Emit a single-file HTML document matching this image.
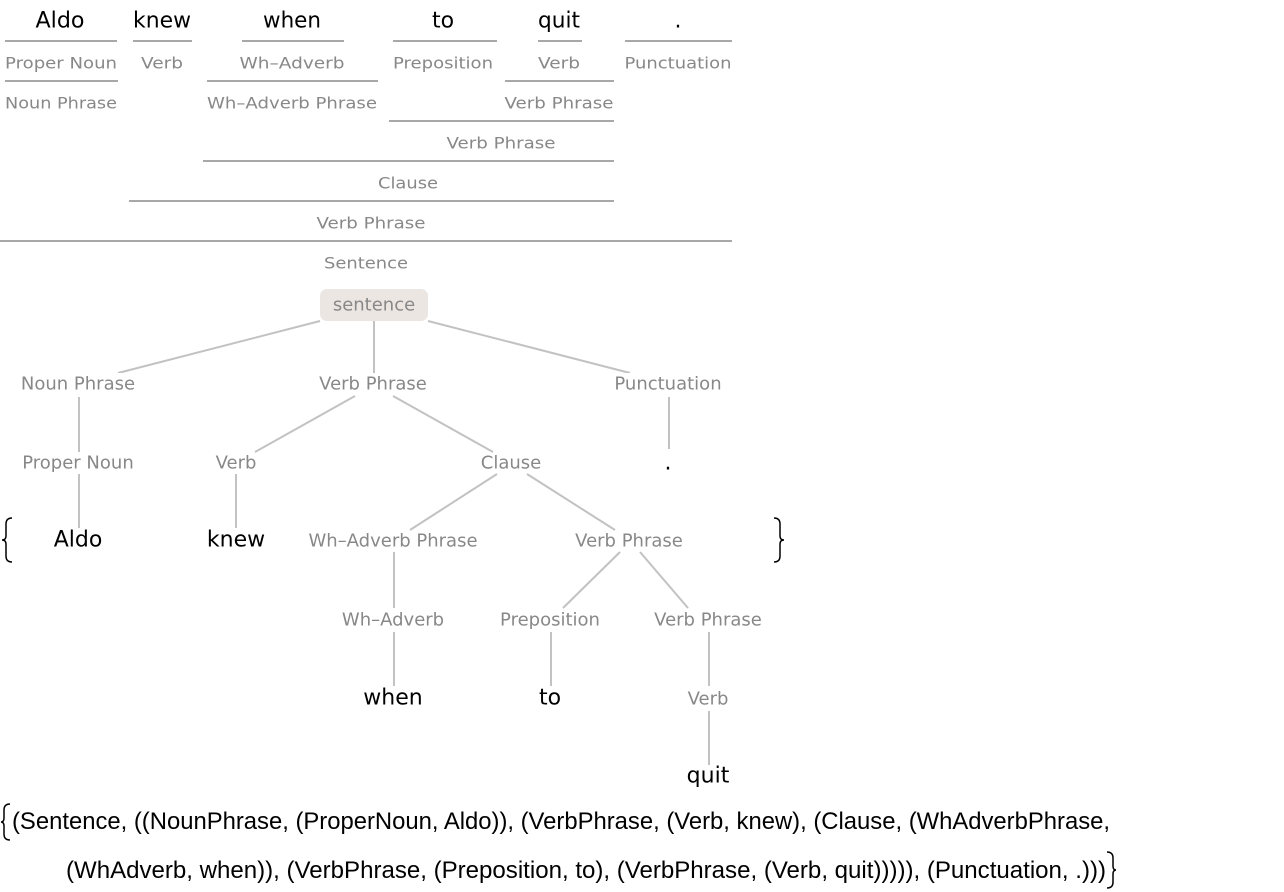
<!DOCTYPE html>
<html><head><meta charset="utf-8"><style>
html,body{margin:0;padding:0;background:#fff;}
svg{display:block;}
.w{font-family:"DejaVu Sans","Liberation Sans",sans-serif;font-size:22px;fill:#000;}
.g{font-family:"DejaVu Sans","Liberation Sans",sans-serif;font-size:16px;fill:#888;}
.t{font-family:"DejaVu Sans","Liberation Sans",sans-serif;font-size:18px;fill:#888;}
.tw{font-family:"DejaVu Sans","Liberation Sans",sans-serif;font-size:22px;fill:#000;}
.b{font-family:"Liberation Sans",sans-serif;font-size:24px;fill:#000;}
</style></head><body>
<svg width="1284" height="892" viewBox="0 0 1284 892" xmlns="http://www.w3.org/2000/svg">
<g text-anchor="middle" dominant-baseline="central">
<text class="w" x="60" y="21" textLength="49" lengthAdjust="spacingAndGlyphs">Aldo</text>
<text class="w" x="162" y="21" textLength="58" lengthAdjust="spacingAndGlyphs">knew</text>
<text class="w" x="292" y="21" textLength="58" lengthAdjust="spacingAndGlyphs">when</text>
<text class="w" x="443" y="21">to</text>
<text class="w" x="559" y="21" textLength="42" lengthAdjust="spacingAndGlyphs">quit</text>
<text class="w" x="678" y="21">.</text>
<text class="g" x="61" y="63" textLength="112" lengthAdjust="spacingAndGlyphs">Proper Noun</text>
<text class="g" x="162" y="63" textLength="42" lengthAdjust="spacingAndGlyphs">Verb</text>
<text class="g" x="292" y="63" textLength="105" lengthAdjust="spacingAndGlyphs">Wh–Adverb</text>
<text class="g" x="443" y="63" textLength="100" lengthAdjust="spacingAndGlyphs">Preposition</text>
<text class="g" x="559" y="63" textLength="42" lengthAdjust="spacingAndGlyphs">Verb</text>
<text class="g" x="678" y="63" textLength="107" lengthAdjust="spacingAndGlyphs">Punctuation</text>
<text class="g" x="61" y="103" textLength="112" lengthAdjust="spacingAndGlyphs">Noun Phrase</text>
<text class="g" x="292" y="103" textLength="170" lengthAdjust="spacingAndGlyphs">Wh–Adverb Phrase</text>
<text class="g" x="559" y="103" textLength="109" lengthAdjust="spacingAndGlyphs">Verb Phrase</text>
<text class="g" x="501" y="143" textLength="109" lengthAdjust="spacingAndGlyphs">Verb Phrase</text>
<text class="g" x="408" y="183" textLength="60" lengthAdjust="spacingAndGlyphs">Clause</text>
<text class="g" x="371" y="223" textLength="109" lengthAdjust="spacingAndGlyphs">Verb Phrase</text>
<text class="g" x="366" y="263" textLength="84" lengthAdjust="spacingAndGlyphs">Sentence</text>
</g>
<g stroke="#a8a8a8" stroke-width="2">
<line x1="5" y1="41" x2="117" y2="41"/><line x1="133" y1="41" x2="192" y2="41"/>
<line x1="242" y1="41" x2="344" y2="41"/><line x1="393" y1="41" x2="497" y2="41"/>
<line x1="538" y1="41" x2="582" y2="41"/><line x1="625" y1="41" x2="732" y2="41"/>
<line x1="5" y1="81" x2="118" y2="81"/><line x1="207" y1="81" x2="378" y2="81"/>
<line x1="505" y1="81" x2="614" y2="81"/>
<line x1="389" y1="121" x2="614" y2="121"/>
<line x1="203" y1="161" x2="614" y2="161"/>
<line x1="129" y1="201" x2="614" y2="201"/>
<line x1="0" y1="241" x2="732" y2="241"/>
</g>
<g stroke="#c2c2c2" stroke-width="2">
<line x1="320" y1="321" x2="118" y2="373"/><line x1="374" y1="321" x2="374" y2="373"/><line x1="428" y1="321" x2="630" y2="373"/>
<line x1="79" y1="397" x2="79" y2="452"/>
<line x1="355" y1="396" x2="255" y2="452"/><line x1="393" y1="396" x2="493" y2="452"/>
<line x1="669" y1="397" x2="669" y2="449"/>
<line x1="79" y1="474" x2="79" y2="528"/><line x1="236" y1="474" x2="236" y2="528"/>
<line x1="497" y1="474" x2="410" y2="530"/><line x1="527" y1="474" x2="615" y2="530"/>
<line x1="394" y1="552" x2="394" y2="608"/>
<line x1="620" y1="552" x2="563" y2="608"/><line x1="640" y1="552" x2="688" y2="608"/>
<line x1="394" y1="632" x2="394" y2="686"/><line x1="551" y1="632" x2="551" y2="686"/>
<line x1="709" y1="632" x2="709" y2="686"/><line x1="709" y1="711" x2="709" y2="765"/>
</g>
<rect x="320" y="289" width="108" height="32" rx="7" fill="#ece6e2"/>
<g text-anchor="middle" dominant-baseline="central">
<text class="t" x="374" y="305">sentence</text>
<rect x="14" y="373" width="128" height="22" fill="#fff"/>
<text class="t" x="78" y="384">Noun Phrase</text>
<rect x="311" y="373" width="124" height="22" fill="#fff"/>
<text class="t" x="373" y="384">Verb Phrase</text>
<rect x="608" y="373" width="120" height="22" fill="#fff"/>
<text class="t" x="668" y="384">Punctuation</text>
<text class="t" x="78" y="463">Proper Noun</text>
<text class="t" x="236" y="463">Verb</text>
<text class="t" x="511" y="463">Clause</text>
<text class="tw" x="668" y="463">.</text>
<text class="tw" x="78" y="540">Aldo</text>
<text class="tw" x="236" y="540">knew</text>
<text class="t" x="393" y="541">Wh–Adverb Phrase</text>
<text class="t" x="629" y="541">Verb Phrase</text>
<text class="t" x="393" y="620">Wh–Adverb</text>
<text class="t" x="550" y="620">Preposition</text>
<text class="t" x="708" y="620">Verb Phrase</text>
<text class="tw" x="393" y="698">when</text>
<text class="tw" x="550" y="698">to</text>
<text class="t" x="708" y="699">Verb</text>
<text class="tw" x="708" y="776">quit</text>
</g>
<path d="M12,518 Q6,518 6,524 L6,536 Q6,540 2,540 Q6,540 6,544 L6,556 Q6,562 12,562" fill="none" stroke="#000" stroke-width="1.5"/>
<path d="M774,518 Q780,518 780,524 L780,536 Q780,540 784,540 Q780,540 780,544 L780,556 Q780,562 774,562" fill="none" stroke="#000" stroke-width="1.5"/>
<path d="M10,804 Q4,804 4,810 L4,818 Q4,822 1,822 Q4,822 4,826 L4,834 Q4,840 10,840" fill="none" stroke="#000" stroke-width="1.5"/>
<path d="M1107,852 Q1113,852 1113,858 L1113,866 Q1113,870 1116,870 Q1113,870 1113,874 L1113,882 Q1113,888 1107,888" fill="none" stroke="#000" stroke-width="1.5"/>
<text class="b" x="12" y="829" textLength="1098" lengthAdjust="spacingAndGlyphs">(Sentence, ((NounPhrase, (ProperNoun, Aldo)), (VerbPhrase, (Verb, knew), (Clause, (WhAdverbPhrase,</text>
<text class="b" x="66" y="878" textLength="1040" lengthAdjust="spacingAndGlyphs">(WhAdverb, when)), (VerbPhrase, (Preposition, to), (VerbPhrase, (Verb, quit))))), (Punctuation, .)))</text>
</svg>
</body></html>
